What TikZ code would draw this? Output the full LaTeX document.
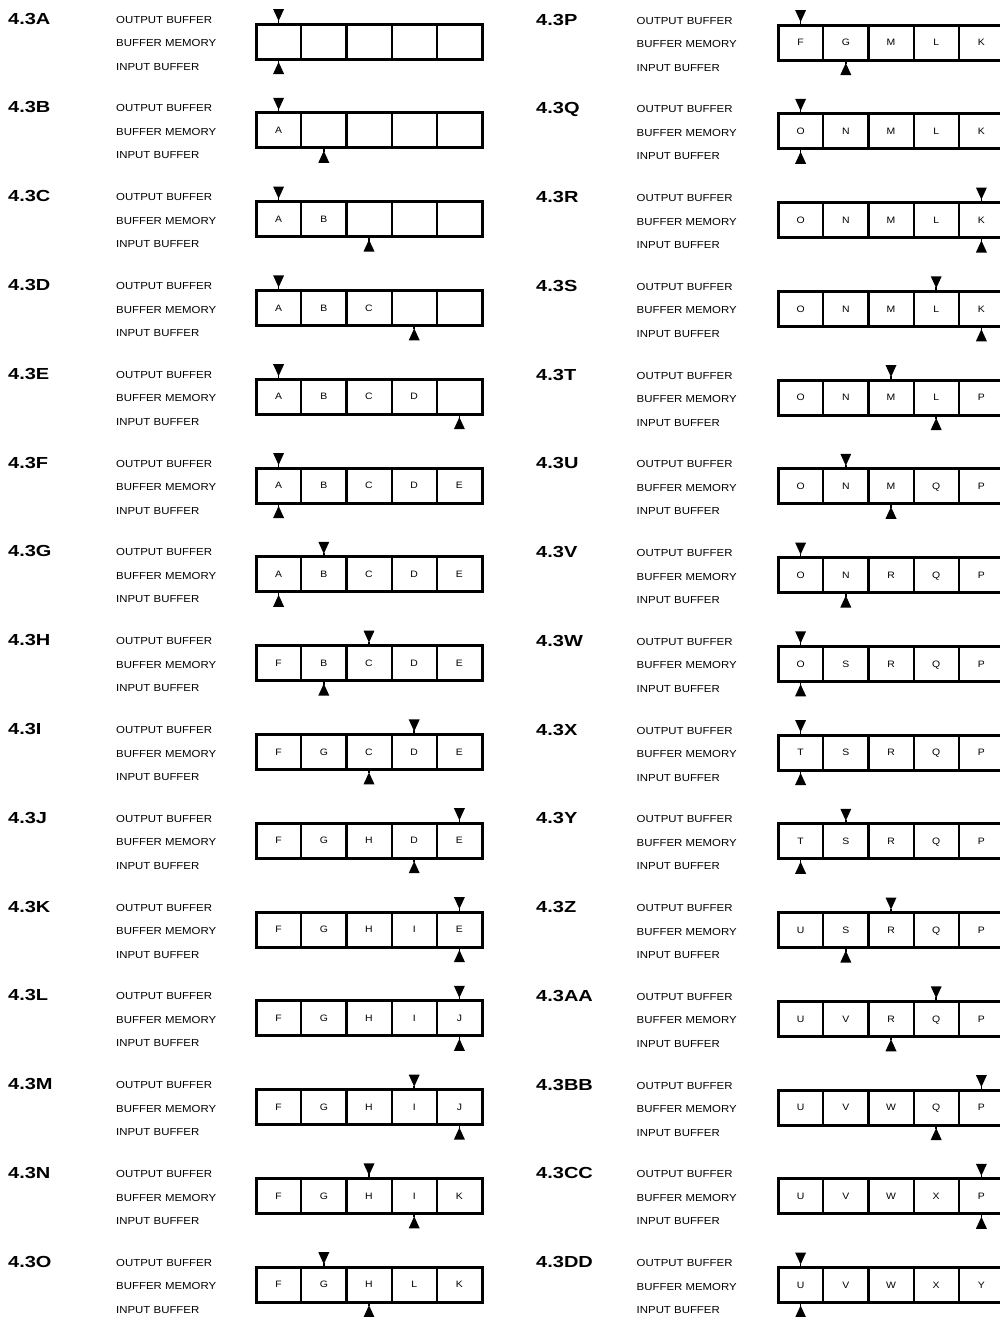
\documentclass[tikz,border=0pt]{standalone}
\usepackage{fontspec}
\setmainfont{Liberation Sans}
\newfontfamily\labfont[FakeStretch=1.12]{Liberation Sans}
\newfontfamily\ttlfont[FakeStretch=1.25]{Liberation Sans Bold}
\usetikzlibrary{calc}
\tikzset{
  ttl/.style={anchor=base west,inner sep=0pt,font=\ttlfont\fontsize{16}{18}\selectfont},
  lab/.style={anchor=base west,inner sep=0pt,font=\labfont\fontsize{10.2}{12}\selectfont},
  cell/.style={draw,line width=2.2pt,minimum width=45.2pt,minimum height=35pt,inner sep=0pt,outer sep=0pt,
    text height=6.5pt,text depth=0pt,font=\labfont\fontsize{9.3}{11}\selectfont},
  frame/.style={line width=3pt},
  ptrline/.style={line width=1.5pt}
}
\newcommand\bufpanel[9]{%
  \node[ttl] (#1t) at (#2,#5-17.5) {#6};
  \node[lab] (#1o) at (#3,#5-18.4) {OUTPUT BUFFER};
  \node[lab] (#1m) at (#3,#5+5.1) {BUFFER MEMORY};
  \node[lab] (#1i) at (#3,#5+28.6) {INPUT BUFFER};
  \foreach \t [count=\k] in {#9} {\node[cell] (#1c\k) at (#4+45.2*\k-22.6,#5) {\t};}
  \draw[frame] (#1c1.north west) rectangle (#1c5.south east);
  \fill ($(#1c#7.north)+(-5.5,-15)$) -- ++(11,0) -- ++(-5.5,12) -- cycle;
  \draw[ptrline] ($(#1c#7.north)+(0,-4)$) -- (#1c#7.north);
  \fill ($(#1c#8.south)+(-5.5,15)$) -- ++(11,0) -- ++(-5.5,-12) -- cycle;
  \draw[ptrline] ($(#1c#8.south)+(0,4)$) -- (#1c#8.south);
}
\begin{document}
\begin{tikzpicture}[x=1pt,y=-1pt]
\useasboundingbox (0,0) rectangle (1000,1317);
\clip (0,0) rectangle (1000,1317);
\fill[white] (0,0) rectangle (1000,1317);
% left column
\bufpanel{A}{8}{116}{256}{41.5}{4.3A}{1}{1}{{},{},{},{},{}}
\bufpanel{B}{8}{116}{256}{130.3}{4.3B}{1}{2}{A,{},{},{},{}}
\bufpanel{C}{8}{116}{256}{219.1}{4.3C}{1}{3}{A,B,{},{},{}}
\bufpanel{D}{8}{116}{256}{307.9}{4.3D}{1}{4}{A,B,C,{},{}}
\bufpanel{E}{8}{116}{256}{396.7}{4.3E}{1}{5}{A,B,C,D,{}}
\bufpanel{F}{8}{116}{256}{485.5}{4.3F}{1}{1}{A,B,C,D,E}
\bufpanel{G}{8}{116}{256}{574.3}{4.3G}{2}{1}{A,B,C,D,E}
\bufpanel{H}{8}{116}{256}{663.1}{4.3H}{3}{2}{F,B,C,D,E}
\bufpanel{I}{8}{116}{256}{751.9}{4.3I}{4}{3}{F,G,C,D,E}
\bufpanel{J}{8}{116}{256}{840.7}{4.3J}{5}{4}{F,G,H,D,E}
\bufpanel{K}{8}{116}{256}{929.5}{4.3K}{5}{5}{F,G,H,I,E}
\bufpanel{L}{8}{116}{256}{1018.3}{4.3L}{5}{5}{F,G,H,I,J}
\bufpanel{M}{8}{116}{256}{1107.1}{4.3M}{4}{5}{F,G,H,I,J}
\bufpanel{N}{8}{116}{256}{1195.9}{4.3N}{3}{4}{F,G,H,I,K}
\bufpanel{O}{8}{116}{256}{1284.7}{4.3O}{2}{3}{F,G,H,L,K}
% right column
\bufpanel{P}{536}{636.5}{778}{42.5}{4.3P}{1}{2}{F,G,M,L,K}
\bufpanel{Q}{536}{636.5}{778}{131.25}{4.3Q}{1}{1}{O,N,M,L,K}
\bufpanel{R}{536}{636.5}{778}{220}{4.3R}{5}{5}{O,N,M,L,K}
\bufpanel{S}{536}{636.5}{778}{308.75}{4.3S}{4}{5}{O,N,M,L,K}
\bufpanel{T}{536}{636.5}{778}{397.5}{4.3T}{3}{4}{O,N,M,L,P}
\bufpanel{U}{536}{636.5}{778}{486.25}{4.3U}{2}{3}{O,N,M,Q,P}
\bufpanel{V}{536}{636.5}{778}{575}{4.3V}{1}{2}{O,N,R,Q,P}
\bufpanel{W}{536}{636.5}{778}{663.75}{4.3W}{1}{1}{O,S,R,Q,P}
\bufpanel{X}{536}{636.5}{778}{752.5}{4.3X}{1}{1}{T,S,R,Q,P}
\bufpanel{Y}{536}{636.5}{778}{841.25}{4.3Y}{2}{1}{T,S,R,Q,P}
\bufpanel{Z}{536}{636.5}{778}{930}{4.3Z}{3}{2}{U,S,R,Q,P}
\bufpanel{AA}{536}{636.5}{778}{1018.75}{4.3AA}{4}{3}{U,V,R,Q,P}
\bufpanel{BB}{536}{636.5}{778}{1107.5}{4.3BB}{5}{4}{U,V,W,Q,P}
\bufpanel{CC}{536}{636.5}{778}{1196.25}{4.3CC}{5}{5}{U,V,W,X,P}
\bufpanel{DD}{536}{636.5}{778}{1285}{4.3DD}{1}{1}{U,V,W,X,Y}
\end{tikzpicture}
\end{document}
